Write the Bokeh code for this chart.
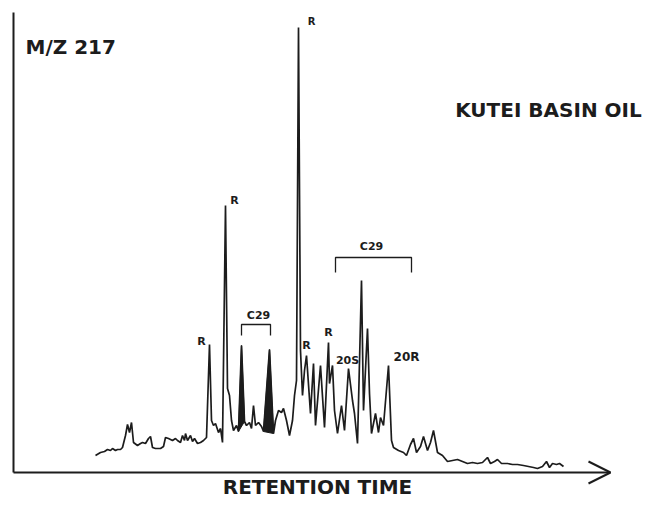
from bokeh.plotting import figure
from bokeh.models import Range1d, Label, Arrow, OpenHead, ColumnDataSource
from bokeh.core.properties import value
from bokeh.embed import file_html
from bokeh.resources import INLINE
import numpy as np

# m/z 217 mass chromatogram: scan number vs. ion abundance
scan = [
    82, 87, 91, 94, 97, 99, 102, 104, 107, 109,
    112, 114, 116, 118, 120, 124, 127, 129, 132, 135,
    137, 139, 142, 147, 150, 152, 155, 159, 162, 164,
    167, 169, 171, 172, 174, 177, 179, 181, 184, 187,
    190, 193, 196, 198, 200, 202, 205, 207, 209, 212,
    214, 216, 218, 220, 223, 225, 228, 231, 233, 236,
    238, 240, 242, 245, 248, 250, 256, 260, 262, 265,
    268, 270, 273, 276, 279, 281, 283, 285, 287, 289,
    291, 293, 297, 300, 302, 307, 311, 315, 316, 319,
    321, 324, 328, 331, 335, 339, 341, 344, 348, 350,
    354, 356, 358, 362, 365, 367, 370, 375, 378, 380,
    385, 390, 393, 397, 400, 403, 407, 410, 414, 417,
    420, 424, 429, 434, 439, 444, 449, 454, 459, 464,
    469, 474, 477, 481, 484, 488, 494, 499, 504, 510,
    515, 520, 524, 529, 533, 536, 539, 543, 546, 550,
]
abundance = [
    16, 19, 20, 22, 21, 23, 21, 22, 22, 24,
    36, 47, 39, 49, 29, 26, 28, 29, 28, 33,
    35, 24, 23, 23, 25, 34, 33, 31, 33, 31,
    29, 36, 31, 38, 31, 36, 30, 33, 28, 29,
    31, 34, 127, 51, 46, 48, 39, 43, 29, 266,
    83, 76, 51, 41, 46, 40, 126, 50, 46, 49,
    43, 66, 46, 49, 45, 40, 122, 38, 51, 61,
    59, 63, 51, 36, 51, 76, 91, 444, 121, 76,
    101, 116, 58, 108, 46, 106, 44, 129, 88, 106,
    61, 38, 66, 41, 103, 71, 58, 28, 191, 61,
    143, 78, 38, 58, 39, 54, 46, 106, 31, 24,
    21, 19, 16, 27, 33, 19, 25, 35, 21, 29,
    41, 19, 16, 10, 11, 12, 10, 8, 9, 8,
    9, 14, 8, 10, 12, 8, 8, 7, 7, 6,
    5, 4, 3, 5, 10, 4, 8, 7, 8, 5,
]

# peak annotations
peak_label_text = ["R", "R", "R", "R", "R", "20S", "20R", "C29", "C29"]
peak_label_x = [188, 221, 298, 293, 315, 334, 393, 245, 358]
peak_label_y = [130, 271, 450, 126, 139, 111, 115, 156, 225]
peak_label_size = ["11px", "11px", "10px", "11px", "11px", "11px", "12px", "11px", "11px"]

# C29 brackets: left x, right x, top y, bottom y
bracket_left = [228, 322]
bracket_right = [257, 398]
bracket_top = [147, 214]
bracket_bottom = [136, 199]

# scan windows of the shaded C29 peaks
shaded_windows = [(225, 231), (250, 260)]

ink = "#1c1c1c"

p = figure(
    width=662, height=508,
    x_range=Range1d(-13, 649), y_range=Range1d(-37, 471),
    output_backend="svg", toolbar_location=None,
    x_axis_location=None, y_axis_location=None,
    min_border=0, outline_line_color=None,
)
p.xgrid.visible = False
p.ygrid.visible = False
p.background_fill_color = "white"

# axes drawn as plain lines, time axis ending in an arrow
p.segment(x0=[0], y0=[-1], x1=[0], y1=[459], line_color=ink, line_width=2)
p.add_layout(Arrow(end=OpenHead(size=22, line_width=2, line_color=ink),
                   x_start=0, y_start=-1, x_end=597, y_end=-1,
                   line_color=ink, line_width=2))

sx = np.array(scan)
sy = np.array(abundance)

# filled C29 peaks
for lo, hi in shaded_windows:
    m = (sx >= lo) & (sx <= hi)
    p.patch(sx[m], sy[m], fill_color=ink, line_color=ink, line_width=1)

# chromatogram trace
p.line(scan, abundance, line_color=ink, line_width=1.7)

# brackets
for l, r, t, b in zip(bracket_left, bracket_right, bracket_top, bracket_bottom):
    p.line([l, l, r, r], [b, t, t, b], line_color=ink, line_width=1.3)

src = ColumnDataSource(dict(x=peak_label_x, y=peak_label_y,
                            text=peak_label_text, size=peak_label_size))
p.text(x="x", y="y", text="text", source=src,
       text_font=value("DejaVu Sans"), text_font_style="bold",
       text_font_size="size", text_align="center", text_baseline="middle",
       text_color=ink)

p.add_layout(Label(x=12, y=425, text="M/Z 217", text_font="DejaVu Sans",
                   text_font_style="bold", text_font_size="20px",
                   text_baseline="middle", text_color=ink))
p.add_layout(Label(x=535, y=362, text="KUTEI BASIN OIL", text_font="DejaVu Sans",
                   text_font_style="bold", text_font_size="20px",
                   text_align="center", text_baseline="middle", text_color=ink))
p.add_layout(Label(x=304, y=-15, text="RETENTION TIME", text_font="DejaVu Sans",
                   text_font_style="bold", text_font_size="20px",
                   text_align="center", text_baseline="middle", text_color=ink))

open("out.html", "w").write(file_html(p, INLINE))
